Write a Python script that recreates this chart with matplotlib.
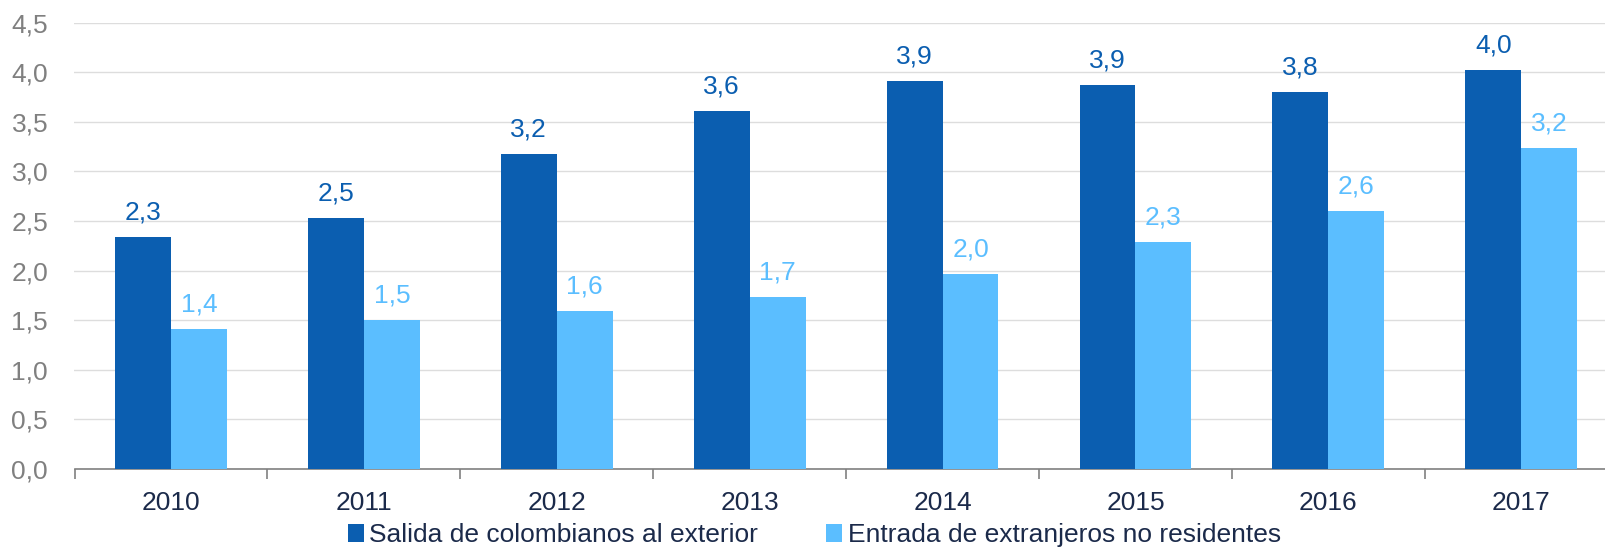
import numpy as np
import matplotlib
matplotlib.use("Agg")
from matplotlib import pyplot as plt
from matplotlib.ticker import FixedLocator, FuncFormatter

years = ["2010", "2011", "2012", "2013", "2014", "2015", "2016", "2017"]
salida = [2.34, 2.53, 3.17, 3.61, 3.91, 3.87, 3.80, 4.02]
entrada = [1.41, 1.50, 1.59, 1.73, 1.97, 2.29, 2.60, 3.24]
yticks = [0.0, 0.5, 1.0, 1.5, 2.0, 2.5, 3.0, 3.5, 4.0, 4.5]

c_dark = "#0B5EB0"
c_light = "#5BBEFF"
c_text = "#1B2A4A"
c_gray = "#808080"

plt.rcParams["font.family"] = ["Liberation Sans", "DejaVu Sans"]
fs = 19

fig = plt.figure(figsize=(16.06, 5.48), dpi=100)
ax = fig.add_axes([74.5 / 1606, 1 - 469 / 548, 8 * 192.9 / 1606, (469 - 22.5) / 548])

x = np.arange(len(years))
w = 0.29
b1 = ax.bar(x - w / 2, salida, w, color=c_dark, label="Salida de colombianos al exterior", zorder=3)
b2 = ax.bar(x + w / 2, entrada, w, color=c_light, label="Entrada de extranjeros no residentes", zorder=3)

fmt = lambda v: ("%.1f" % v).replace(".", ",")
for rect, v in zip(b1, salida):
    ax.annotate(fmt(v), (rect.get_x() + rect.get_width() / 2, v), xytext=(0, 9),
                textcoords="offset points", ha="center", va="bottom", fontsize=fs, color=c_dark)
for rect, v in zip(b2, entrada):
    ax.annotate(fmt(v), (rect.get_x() + rect.get_width() / 2, v), xytext=(0, 9),
                textcoords="offset points", ha="center", va="bottom", fontsize=fs, color=c_light)

ax.set_xlim(-0.5, len(years) - 0.5)
ax.set_ylim(0, 4.5)
ax.set_yticks(yticks)
ax.yaxis.set_major_formatter(FuncFormatter(lambda v, p: fmt(v)))
ax.tick_params(axis="y", length=0, labelsize=fs, labelcolor=c_gray, pad=19)
ax.grid(axis="y", color="#DDDDDD", lw=1, zorder=0)

ax.set_xticks(x)
ax.set_xticklabels(years)
ax.xaxis.set_minor_locator(FixedLocator(np.arange(-0.5, len(years), 1)))
ax.tick_params(axis="x", which="major", length=0, labelsize=fs, labelcolor=c_text, pad=16)
ax.tick_params(axis="x", which="minor", length=7, color=c_gray, width=1.2)

for s in ["left", "right", "top"]:
    ax.spines[s].set_visible(False)
ax.spines["bottom"].set_color(c_gray)
ax.spines["bottom"].set_linewidth(1.2)

fig.legend(loc="center", bbox_to_anchor=(0.507, 1 - 535 / 548), ncol=2,
           frameon=False, fontsize=fs, handlelength=0.6, handleheight=0.7, handletextpad=0.2,
           columnspacing=2.6, labelcolor=c_text, borderaxespad=0)

fig.savefig("out.png", dpi=100)
